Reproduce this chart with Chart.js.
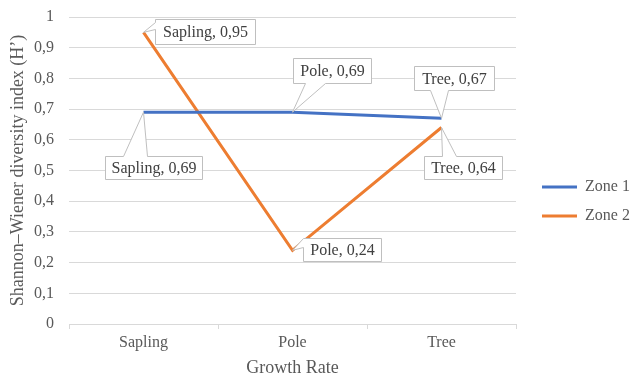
<!DOCTYPE html>
<html>
<head>
<meta charset="utf-8">
<script src="https://cdn.jsdelivr.net/npm/chart.js@4"></script>
<style>
    html, body { margin: 0; padding: 0; background: #ffffff; }
    #grafico { display: block; }
</style>
</head>
<body>
<canvas id="grafico" width="630" height="379"></canvas>
<script>
// Dados do gráfico
const categorias = ['Sapling', 'Pole', 'Tree'];
const zona1 = [0.69, 0.69, 0.67];
const zona2 = [0.95, 0.24, 0.64];
const nomesSeries = ['Zone 1', 'Zone 2'];
const ticksY = [0, 0.1, 0.2, 0.3, 0.4, 0.5, 0.6, 0.7, 0.8, 0.9, 1];

const FONTE = '"Liberation Serif", "Times New Roman", serif';
const CINZA = '#595959';

// Posição das caixas de rótulo (relativas ao ponto), por série / categoria
const caixasRotulo = [
    [
        { dx: -39, dy: 44, w: 97, h: 23, lado: 'top', a: 18, b: 42 },
        { dx: 0, dy: -54, w: 78, h: 25, lado: 'bottom', a: 12, b: 32 },
        { dx: -28, dy: -52, w: 80, h: 24, lado: 'bottom', a: 16, b: 34 }
    ],
    [
        { dx: 11, dy: -13, w: 100, h: 25, lado: 'left', a: 3, b: 10 },
        { dx: 10, dy: -12, w: 78, h: 23, lado: 'left', a: 0, b: 9 },
        { dx: -18, dy: 28, w: 78, h: 23, lado: 'top', a: 18, b: 32 }
    ]
];

function formatarNumero(v) {
    if (Math.abs(v) < 1e-9) return '0';
    if (Math.abs(v - 1) < 1e-9) return '1';
    return v.toFixed(2).replace(/0$/, '').replace('.', ',');
}

function caminhoCaixa(ctx, px, py, x, y, w, h, lado, a, b) {
    ctx.beginPath();
    ctx.moveTo(x, y);
    if (lado === 'top') { ctx.lineTo(x + a, y); ctx.lineTo(px, py); ctx.lineTo(x + b, y); }
    ctx.lineTo(x + w, y);
    ctx.lineTo(x + w, y + h);
    if (lado === 'bottom') { ctx.lineTo(x + b, y + h); ctx.lineTo(px, py); ctx.lineTo(x + a, y + h); }
    ctx.lineTo(x, y + h);
    if (lado === 'left') { ctx.lineTo(x, y + b); ctx.lineTo(px, py); ctx.lineTo(x, y + a); }
    ctx.closePath();
}

// Plugin simples para os rótulos com balão
const pluginRotulos = {
    id: 'rotulosBalao',
    afterDatasetsDraw(chart) {
        const ctx = chart.ctx;
        ctx.save();
        ctx.font = '16px ' + FONTE;
        ctx.textAlign = 'center';
        ctx.textBaseline = 'middle';
        chart.data.datasets.forEach((ds, i) => {
            const meta = chart.getDatasetMeta(i);
            meta.data.forEach((pt, j) => {
                const c = caixasRotulo[i][j];
                const x = Math.round(pt.x + c.dx) + 0.5;
                const y = Math.round(pt.y + c.dy) + 0.5;
                caminhoCaixa(ctx, pt.x, pt.y, x, y, c.w, c.h, c.lado, c.a, c.b);
                ctx.fillStyle = '#ffffff';
                ctx.fill();
                ctx.strokeStyle = '#bfbfbf';
                ctx.lineWidth = 1;
                ctx.stroke();
                ctx.fillStyle = '#404040';
                const texto = categorias[j] + ', ' + formatarNumero(ds.data[j]);
                ctx.fillText(texto, x + c.w / 2, y + c.h / 2 + 1);
            });
        });
        ctx.restore();
    }
};

// Legenda um pouco mais estreita (fica encostada à direita, como no original)
const pluginLegendaEstreita = {
    id: 'legendaEstreita',
    afterInit(chart) {
        const leg = chart.legend;
        if (!leg) return;
        const fitOriginal = leg.fit;
        leg.fit = function () {
            fitOriginal.call(this);
            this.width = 101;
        };
    }
};

Chart.defaults.font.family = FONTE;

const ctxGrafico = document.getElementById('grafico').getContext('2d');
const grafico = new Chart(ctxGrafico, {
    type: 'line',
    data: {
        labels: categorias,
        datasets: [
            {
                label: nomesSeries[0],
                data: zona1,
                borderColor: '#4472c4',
                backgroundColor: '#4472c4',
                borderWidth: 3,
                pointRadius: 0,
                tension: 0
            },
            {
                label: nomesSeries[1],
                data: zona2,
                borderColor: '#ed7d31',
                backgroundColor: '#ed7d31',
                borderWidth: 3,
                pointRadius: 0,
                tension: 0
            }
        ]
    },
    options: {
        responsive: false,
        animation: false,
        devicePixelRatio: 1,
        layout: { padding: { top: 17, right: 0, bottom: 0, left: 4 } },
        plugins: {
            tooltip: { enabled: false },
            legend: {
                position: 'right',
                title: { display: true, text: '', padding: 0, font: { size: 6 } },
                labels: {
                    boxWidth: 35,
                    boxHeight: 3,
                    padding: 13,
                    color: CINZA,
                    font: { family: FONTE, size: 16 },
                    generateLabels(chart) {
                        const itens = Chart.defaults.plugins.legend.labels.generateLabels(chart);
                        itens.forEach(it => { it.lineWidth = 0; });
                        return itens;
                    }
                }
            }
        },
        scales: {
            x: {
                type: 'category',
                offset: true,
                afterFit(axis) { axis.height = 55; },
                grid: {
                    offset: true,
                    drawOnChartArea: false,
                    drawTicks: true,
                    tickLength: 5,
                    color: '#d9d9d9'
                },
                border: { color: '#d9d9d9', width: 1 },
                ticks: {
                    color: CINZA,
                    padding: 4,
                    font: { family: FONTE, size: 16 }
                },
                title: {
                    display: true,
                    text: 'Growth Rate',
                    color: CINZA,
                    padding: { top: 2, bottom: 0 },
                    font: { family: FONTE, size: 18 }
                }
            },
            y: {
                min: ticksY[0],
                max: ticksY[ticksY.length - 1],
                afterBuildTicks(axis) {
                    axis.ticks = ticksY.map(v => ({ value: v }));
                },
                afterFit(axis) {
                    axis.width = 65;
                    axis.paddingTop = 0;
                    axis.paddingBottom = 0;
                },
                grid: {
                    color: '#d9d9d9',
                    drawTicks: false
                },
                border: { display: false },
                ticks: {
                    color: CINZA,
                    padding: 15,
                    font: { family: FONTE, size: 16 },
                    callback: v => formatarNumero(v)
                },
                title: {
                    display: true,
                    text: 'Shannon–Wiener diversity index (H\u2019)',
                    color: CINZA,
                    padding: { top: 3, bottom: 0 },
                    font: { family: FONTE, size: 18 }
                }
            },
            // eixo vazio à direita, só para afastar a legenda da área do gráfico
            yEspaco: {
                position: 'right',
                display: true,
                afterFit(axis) {
                    axis.width = 13;
                    axis.paddingTop = 0;
                    axis.paddingBottom = 0;
                },
                grid: { display: false },
                border: { display: false },
                ticks: { display: false }
            }
        }
    },
    plugins: [pluginRotulos, pluginLegendaEstreita]
});

if (document.fonts && document.fonts.ready) {
    document.fonts.ready.then(() => grafico.update());
}
</script>
</body>
</html>
